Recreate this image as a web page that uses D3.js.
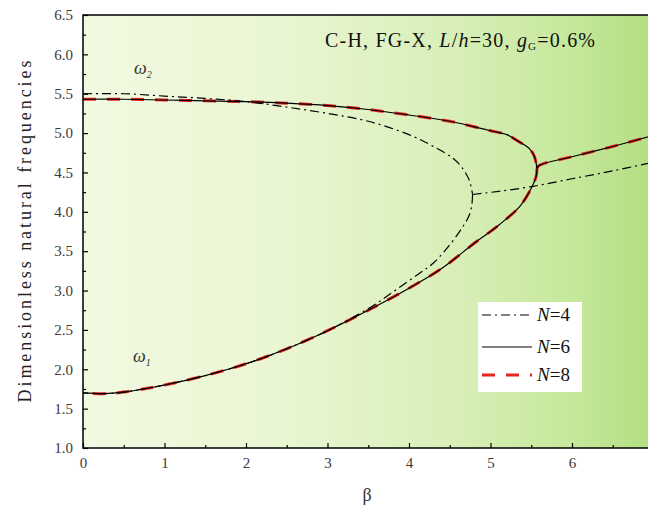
<!DOCTYPE html>
<html>
<head>
<meta charset="utf-8">
<script src="https://cdn.jsdelivr.net/npm/d3@7"></script>
<style>
  html, body { margin: 0; padding: 0; background: #fff; }
  svg { display: block; font-family: "Liberation Serif", "Times New Roman", serif; }
</style>
</head>
<body>
<div id="chart"></div>
<script>
// β on x, dimensionless frequency on y; [beta, omega] pairs
const n4Upper = [[0,5.50],[0.5,5.50],[1,5.47],[1.5,5.44],[2,5.40],[2.5,5.33],[3,5.25],[3.5,5.15],[4,4.98],[4.3,4.83],[4.54,4.68],[4.65,4.56],[4.74,4.40],[4.78,4.22]];
const n4Lower = [[4.78,4.22],[4.77,4.08],[4.74,3.96],[4.66,3.81],[4.5,3.58],[4.3,3.35],[4.13,3.22],[3.8,2.98],[3.5,2.77],[3,2.49],[2.5,2.26],[2,2.07],[1.5,1.92],[1,1.80],[0.5,1.71],[0.25,1.69],[0,1.70]];
const n4Right = [[4.78,4.22],[5.1,4.26],[5.5,4.32],[6,4.42],[6.5,4.52],[7,4.63]];

const n6Upper = [[0,5.43],[0.5,5.43],[1,5.42],[1.5,5.41],[2,5.40],[2.5,5.38],[3,5.35],[3.5,5.30],[4,5.23],[4.5,5.15],[4.8,5.08],[5.0,5.03],[5.2,4.98],[5.35,4.89],[5.48,4.80],[5.54,4.70],[5.57,4.55]];
const n6Lower = [[5.57,4.55],[5.56,4.45],[5.5,4.30],[5.36,4.07],[5.1,3.83],[4.8,3.60],[4.4,3.28],[4,3.03],[3.5,2.75],[3,2.49],[2.5,2.26],[2,2.07],[1.5,1.92],[1,1.80],[0.5,1.71],[0.25,1.69],[0,1.70]];
const n6Right = [[5.57,4.55],[5.6,4.59],[6,4.70],[6.5,4.83],[7,4.97]];

const n8Upper = [[0,5.43],[0.5,5.43],[1,5.42],[1.5,5.41],[2,5.40],[2.5,5.38],[3,5.35],[3.5,5.30],[4,5.23],[4.5,5.15],[4.8,5.08],[5.0,5.03],[5.2,4.98],[5.35,4.89],[5.48,4.80],[5.54,4.70],[5.57,4.55]];
const n8Lower = [[5.57,4.55],[5.56,4.45],[5.5,4.30],[5.36,4.07],[5.1,3.83],[4.8,3.60],[4.4,3.28],[4,3.03],[3.5,2.75],[3,2.49],[2.5,2.26],[2,2.07],[1.5,1.92],[1,1.80],[0.5,1.71],[0.25,1.69],[0,1.70]];
const n8Right = [[5.57,4.55],[5.6,4.59],[6,4.70],[6.5,4.83],[7,4.97]];

const xTicks = [0,1,2,3,4,5,6,7];
const xMinor = [0.5,1.5,2.5,3.5,4.5,5.5,6.5];
const yTicks = [1.0,1.5,2.0,2.5,3.0,3.5,4.0,4.5,5.0,5.5,6.0,6.5];
const yMinor = [1.25,1.75,2.25,2.75,3.25,3.75,4.25,4.75,5.25,5.75,6.25];

const legendItems = [
  { n: "4", dash: "9,4,2,4", color: "#000", width: 1.2 },
  { n: "6", dash: null, color: "#000", width: 1.2 },
  { n: "8", dash: "13,11", color: "#e8261e", width: 3 }
];

const W = 648, H = 513;
const pLeft = 83, pRight = 653.5, pTop = 15, pBottom = 448;

const svg = d3.select("#chart").append("svg")
  .attr("width", W).attr("height", H);

const x = d3.scaleLinear().domain([0, 7]).range([pLeft, pRight]);
const y = d3.scaleLinear().domain([1, 6.5]).range([pBottom, pTop]);

const defs = svg.append("defs");
const grad = defs.append("linearGradient")
  .attr("id", "bg").attr("gradientUnits", "userSpaceOnUse")
  .attr("x1", pLeft).attr("x2", pRight).attr("y1", 0).attr("y2", 0);
[[0, "#f2f9e1"], [0.35, "#e9f6d2"], [0.65, "#d8efb8"], [0.85, "#c6e89c"], [1, "#b3de82"]]
  .forEach(s => grad.append("stop").attr("offset", s[0]).attr("stop-color", s[1]));

defs.append("clipPath").attr("id", "plotclip")
  .append("rect").attr("x", pLeft).attr("y", pTop)
  .attr("width", pRight - pLeft).attr("height", pBottom - pTop);

svg.append("rect")
  .attr("x", pLeft).attr("y", pTop)
  .attr("width", pRight - pLeft).attr("height", pBottom - pTop)
  .attr("fill", "url(#bg)");

// curves
const line = d3.line()
  .x(d => x(d[0]))
  .y(d => y(d[1]))
  .curve(d3.curveCatmullRom.alpha(0.5));

const plot = svg.append("g").attr("clip-path", "url(#plotclip)");

function drawSeries(arrays, style) {
  arrays.forEach(a => {
    plot.append("path")
      .attr("d", line(a))
      .attr("fill", "none")
      .attr("stroke", style.color)
      .attr("stroke-width", style.width)
      .attr("stroke-dasharray", style.dash);
  });
}

drawSeries([n8Upper, n8Lower, n8Right], legendItems[2]);
drawSeries([n4Upper, n4Lower, n4Right], legendItems[0]);
drawSeries([n6Upper, n6Lower, n6Right], legendItems[1]);

// axes
const tickFont = g => g.selectAll("text")
  .attr("font-family", "Liberation Serif, serif")
  .attr("font-size", 15)
  .attr("fill", "#3a3a3a");

svg.append("g")
  .attr("transform", `translate(0,${pBottom})`)
  .call(d3.axisBottom(x).tickValues(xTicks).tickFormat(d3.format("d"))
    .tickSizeInner(-5).tickSizeOuter(0).tickPadding(9))
  .call(g => g.select(".domain").remove())
  .call(tickFont);

svg.append("g")
  .attr("transform", `translate(0,${pBottom})`)
  .call(d3.axisBottom(x).tickValues(xMinor).tickFormat("")
    .tickSizeInner(-3).tickSizeOuter(0))
  .call(g => g.select(".domain").remove());

svg.append("g")
  .attr("transform", `translate(${pLeft},0)`)
  .call(d3.axisLeft(y).tickValues(yTicks).tickFormat(d3.format(".1f"))
    .tickSizeInner(-5).tickSizeOuter(0).tickPadding(10))
  .call(g => g.select(".domain").remove())
  .call(tickFont);

svg.append("g")
  .attr("transform", `translate(${pLeft},0)`)
  .call(d3.axisLeft(y).tickValues(yMinor).tickFormat("")
    .tickSizeInner(-3).tickSizeOuter(0))
  .call(g => g.select(".domain").remove());

svg.selectAll(".tick line").attr("stroke", "#000").attr("stroke-width", 1.2);

svg.append("rect")
  .attr("x", pLeft).attr("y", pTop)
  .attr("width", pRight - pLeft).attr("height", pBottom - pTop)
  .attr("fill", "none").attr("stroke", "#000").attr("stroke-width", 1.5);

// axis titles
svg.append("text")
  .attr("x", 367).attr("y", 501)
  .attr("text-anchor", "middle")
  .attr("font-size", 18).attr("fill", "#333")
  .text("β");

svg.append("text")
  .attr("transform", `translate(31,${(pTop + pBottom) / 2}) rotate(-90)`)
  .attr("text-anchor", "middle")
  .attr("font-size", 18).attr("fill", "#222")
  .attr("textLength", 342).attr("lengthAdjust", "spacing")
  .text("Dimensionless natural frequencies");

// annotation
const ann = svg.append("text")
  .attr("x", 325).attr("y", 47)
  .attr("font-size", 20).attr("fill", "#111")
  .attr("textLength", 270).attr("lengthAdjust", "spacing");
ann.append("tspan").text("C-H, FG-X, ");
ann.append("tspan").attr("font-style", "italic").text("L");
ann.append("tspan").text("/");
ann.append("tspan").attr("font-style", "italic").text("h");
ann.append("tspan").text("=30, ");
ann.append("tspan").attr("font-style", "italic").text("g");
ann.append("tspan").attr("font-size", 11).attr("dy", 3).text("G");
ann.append("tspan").attr("dy", -3).text("=0.6%");

// omega labels
function omegaLabel(px, py, sub) {
  const t = svg.append("text").attr("x", px).attr("y", py)
    .attr("font-size", 18).attr("fill", "#333").attr("font-style", "italic");
  t.append("tspan").text("ω");
  t.append("tspan").attr("font-size", 10).attr("dy", 4).text(sub);
}
omegaLabel(134, 74, "2");
omegaLabel(133, 362, "1");

// legend
const lg = svg.append("g");
lg.append("rect")
  .attr("x", 478).attr("y", 302).attr("width", 104).attr("height", 90)
  .attr("fill", "#fff");
const rowY = [315, 347, 375];
legendItems.forEach((d, i) => {
  lg.append("line")
    .attr("x1", 482).attr("x2", 532)
    .attr("y1", rowY[i]).attr("y2", rowY[i])
    .attr("stroke", d.color).attr("stroke-width", d.width)
    .attr("stroke-dasharray", d.dash);
  const t = lg.append("text")
    .attr("x", 537).attr("y", rowY[i] + 6)
    .attr("font-size", 19).attr("fill", "#111");
  t.append("tspan").attr("font-style", "italic").text("N");
  t.append("tspan").text("=" + d.n);
});
</script>
</body>
</html>
